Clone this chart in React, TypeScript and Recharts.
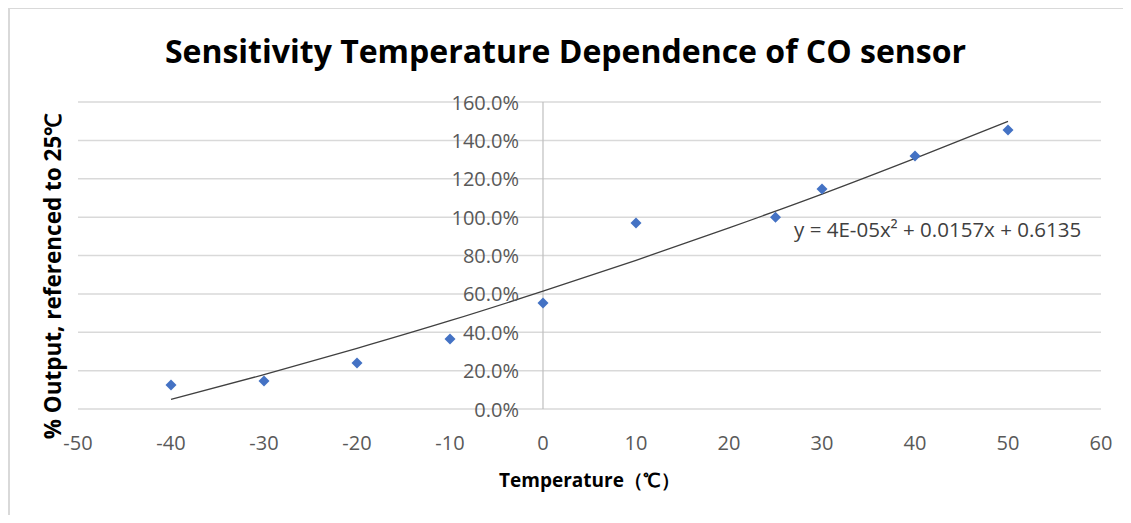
import React from 'react'
import {
  ComposedChart,
  Scatter,
  Line,
  XAxis,
  YAxis,
  CartesianGrid,
  ReferenceLine,
  ReferenceDot,
} from 'recharts'

// measured temperatures (°C) and output relative to 25°C
const temps = [-40, -30, -20, -10, 0, 10, 25, 30, 40, 50]
const outputs = [0.125, 0.146, 0.24, 0.365, 0.552, 0.969, 1.0, 1.147, 1.318, 1.454]

// polynomial trendline
const trendTemps = [-40, -30, -20, -10, 0, 10, 20, 30, 40, 50]
const trendValues = [0.05, 0.179, 0.316, 0.46, 0.614, 0.775, 0.944, 1.12, 1.306, 1.499]

const xTicks = [-50, -40, -30, -20, -10, 0, 10, 20, 30, 40, 50, 60]
const yTicks = [0, 0.2, 0.4, 0.6, 0.8, 1.0, 1.2, 1.4, 1.6]

const title = 'Sensitivity Temperature Dependence of CO sensor'
const xTitle = 'Temperature（℃）'
const yTitle = '% Output, referenced to 25℃'
const equation = 'y = 4E-05x² + 0.0157x + 0.6135'

const points = temps.map((t, i) => ({ x: t, y: outputs[i] }))
const trend = trendTemps.map((t, i) => ({ x: t, y: trendValues[i] }))

const W = 1115
const H = 507
const yAxisW = 1
const margin = { top: 94, right: 22, left: 69, bottom: 6 }
const plotLeft = margin.left + yAxisW
const plotW = W - plotLeft - margin.right
const xMin = xTicks[0]
const xMax = xTicks[xTicks.length - 1]
// Excel draws the value axis where x = 0
const zeroX = plotLeft + (plotW * (0 - xMin)) / (xMax - xMin)

const FONT = '"Open Sans", sans-serif'
const tickColor = '#595959'

const Diamond = (props: any) => {
  const { cx, cy } = props
  const r = 5.5
  return (
    <polygon
      points={`${cx},${cy - r} ${cx + r},${cy} ${cx},${cy + r} ${cx - r},${cy}`}
      fill="#4472C4"
    />
  )
}

const YTick = (props: any) => {
  const { y, payload } = props
  return (
    <text
      x={zeroX - 24}
      y={y}
      textAnchor="end"
      dominantBaseline="central"
      fontSize={20}
      fontFamily={FONT}
      fill={tickColor}
    >
      {(payload.value * 100).toFixed(1)}%
    </text>
  )
}

const XTick = (props: any) => {
  const { x, y, payload } = props
  return (
    <text
      x={x}
      y={y + 25}
      textAnchor="middle"
      dominantBaseline="central"
      fontSize={20}
      fontFamily={FONT}
      fill={tickColor}
    >
      {payload.value}
    </text>
  )
}

const XTitle = (props: any) => {
  const { x, y, width } = props.viewBox
  return (
    <text
      x={x + width / 2}
      y={y + 71}
      textAnchor="middle"
      dominantBaseline="central"
      fontSize={19}
      fontWeight="bold"
      fontFamily={FONT}
      fill="#000"
    >
      {xTitle}
    </text>
  )
}

const YTitle = (props: any) => {
  const { y, height } = props.viewBox
  const cx = 44
  const cy = y + height / 2 + 21
  return (
    <text
      x={cx}
      y={cy}
      transform={`rotate(-90 ${cx} ${cy})`}
      textAnchor="middle"
      dominantBaseline="central"
      fontSize={22.5}
      fontWeight="bold"
      fontFamily={FONT}
      fill="#000"
    >
      {yTitle}
    </text>
  )
}

const EquationLabel = (props: any) => {
  const vb = props.viewBox || {}
  const x = vb.cx ?? vb.x + (vb.width || 0) / 2
  const y = vb.cy ?? vb.y + (vb.height || 0) / 2
  return (
    <text x={x} y={y} dominantBaseline="central" fontSize={20.5} fontFamily={FONT} fill="#404040">
      {equation}
    </text>
  )
}

export default function App() {
  return (
    <div style={{ position: 'relative', width: W, height: H, background: '#fff' }}>
      <div style={{ position: 'absolute', left: 0, top: -1, width: W + 8, height: 2, background: '#d9d9d9' }} />
      <div style={{ position: 'absolute', left: 0, top: -1, width: 2, height: H + 8, background: '#d9d9d9' }} />
      <div
        style={{
          position: 'absolute',
          left: 0,
          width: W,
          top: 23,
          textAlign: 'center',
          fontFamily: FONT,
          fontWeight: 'bold',
          fontSize: 32,
          color: '#000',
          lineHeight: '40px',
        }}
      >
        {title}
      </div>
      <ComposedChart width={W} height={H} margin={margin}>
        <CartesianGrid horizontal vertical={false} stroke="#d9d9d9" strokeWidth={1.5} />
        <XAxis
          type="number"
          dataKey="x"
          domain={[xMin, xMax]}
          ticks={xTicks}
          allowDataOverflow
          axisLine={false}
          tickLine={false}
          height={100}
          tick={<XTick />}
          label={<XTitle />}
        />
        <YAxis
          type="number"
          dataKey="y"
          domain={[0, 1.6]}
          ticks={yTicks}
          width={yAxisW}
          interval={0}
          axisLine={false}
          tickLine={false}
          tick={<YTick />}
          label={<YTitle />}
        />
        <ReferenceLine x={0} stroke="#bfbfbf" strokeWidth={1.2} />
        <Line
          data={trend}
          dataKey="y"
          type="monotone"
          stroke="#404040"
          strokeWidth={1.3}
          dot={false}
          activeDot={false}
          isAnimationActive={false}
        />
        <Scatter data={points} dataKey="y" shape={<Diamond />} isAnimationActive={false} />
        <ReferenceDot x={27} y={0.94} r={0} fill="none" stroke="none" label={<EquationLabel />} />
      </ComposedChart>
    </div>
  )
}
